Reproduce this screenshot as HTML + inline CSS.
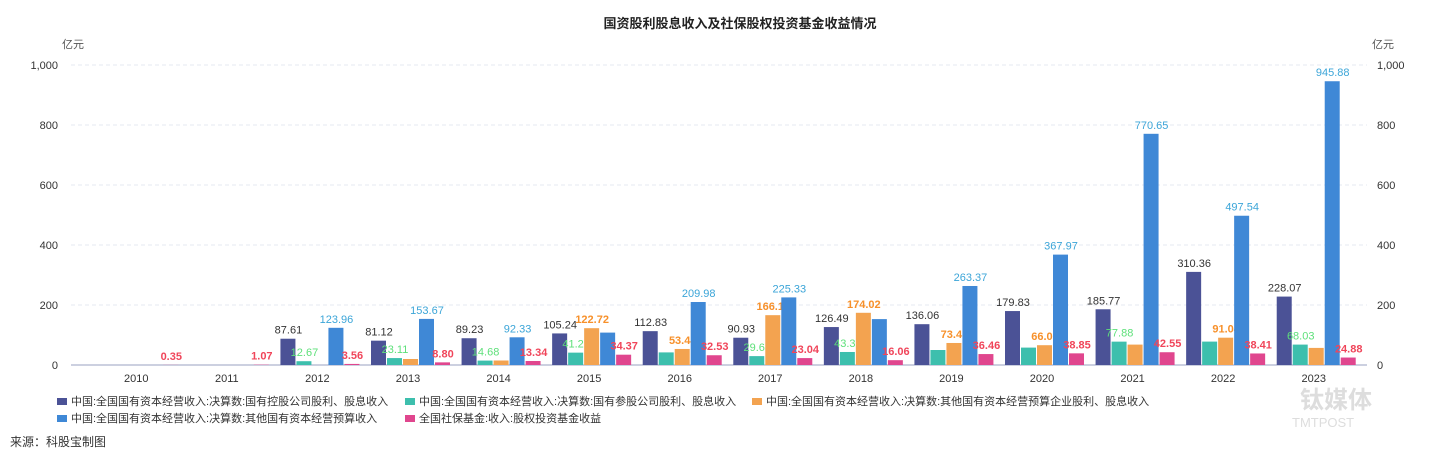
<!DOCTYPE html>
<html><head><meta charset="utf-8"><style>
body{margin:0;background:#fff;font-family:"Liberation Sans","Noto Sans CJK SC",sans-serif;}
svg text{font-family:"Liberation Sans","Noto Sans CJK SC",sans-serif;}
</style></head><body>
<svg id="c" width="1439" height="456">
<text x="740" y="28" text-anchor="middle" font-size="13" font-weight="bold" fill="#222">国资股利股息收入及社保股权投资基金收益情况</text>
<text x="62" y="48" font-size="11" fill="#555">亿元</text>
<text x="1372" y="48" font-size="11" fill="#555">亿元</text>
<text x="10" y="446" font-size="12" fill="#333">来源：科股宝制图</text>
<text x="1300" y="408" font-size="24" font-weight="bold" fill="#ddd">钛媒体</text>
<text x="1292" y="427" font-size="13" fill="#ddd">TMTPOST</text>
<g id="g"></g>
</svg>
<script>
const years=["2010","2011","2012","2013","2014","2015","2016","2017","2018","2019","2020","2021","2022","2023"];
const navy=[0,0,87.61,81.12,89.23,105.24,112.83,90.93,126.49,136.06,179.83,185.77,310.36,228.07];
const teal=[0,0,12.67,23.11,14.68,41.21,42,29.63,43.38,50,58,77.88,78,68.03];
const orange=[0,0,0,20,15,122.72,53.44,166.10,174.02,73.41,66.01,68,91.04,57];
const blue=[0,0,123.96,153.67,92.33,108,209.98,225.33,153,263.37,367.97,770.65,497.54,945.88];
const pink=[0.35,1.07,3.56,8.80,13.34,34.37,32.53,23.04,16.06,36.46,38.85,42.55,38.41,24.88];
const showNavy=[0,0,1,1,1,1,1,1,1,1,1,1,1,1];
const showTeal=[0,0,1,1,1,1,0,1,1,0,0,1,0,1];
const showOrange=[0,0,0,0,0,1,1,1,1,1,1,0,1,0];
const showBlue=[0,0,1,1,1,0,1,1,0,1,1,1,1,1];
const showPink=[1,1,1,1,1,1,1,1,1,1,1,1,1,1];
const ticks=[0,200,400,600,800,1000];
const legendNames=["中国:全国国有资本经营收入:决算数:国有控股公司股利、股息收入","中国:全国国有资本经营收入:决算数:国有参股公司股利、股息收入","中国:全国国有资本经营收入:决算数:其他国有资本经营预算企业股利、股息收入","中国:全国国有资本经营收入:决算数:其他国有资本经营预算收入","全国社保基金:收入:股权投资基金收益"];
const NS="http://www.w3.org/2000/svg",g=document.getElementById('g');
const x0=91,x1=1359,yb=365,yt=65;
const y=v=>yb-(v/1000)*(yb-yt);
const bw=(x1-x0)/years.length;
const xc=i=>x0+bw*(i+0.5);
function mk(t,a,txt){const e=document.createElementNS(NS,t);for(const k in a)e.setAttribute(k,a[k]);if(txt!==undefined)e.textContent=txt;g.appendChild(e);return e;}
ticks.forEach(t=>{
 const l=mk('line',{x1:x0-20,x2:x1+8,y1:y(t),y2:y(t),stroke:t?'#e6e9f0':'#9aa0c0','stroke-dasharray':t?'4,3':''});
 
 
 const a=mk('text',{x:58,y:y(t)+4,'text-anchor':'end','font-size':11,fill:'#333'},t.toLocaleString('en-US'));
 
 
 const b=mk('text',{x:1377,y:y(t)+4,'font-size':11,fill:'#333'},t.toLocaleString('en-US'));
 
 
});
years.forEach((yr,i)=>{
 const t=mk('text',{x:xc(i),y:382,'text-anchor':'middle','font-size':11,fill:'#333'},yr);
 
 
});
const series=[[navy,showNavy,'#4b5296','#333','normal'],[teal,showTeal,'#3dbfad','#5ee07a','normal'],[orange,showOrange,'#f3a350','#f7902a','bold'],[blue,showBlue,'#3f88d6','#3ba5d8','normal'],[pink,showPink,'#e0468e','#f0455a','bold']];
const w=16;
series.forEach((s,si)=>{
 s[0].forEach((v,i)=>{
  const bx=xc(i)-2.5*w+si*w+3;
  const r=mk('rect',{x:bx,y:y(v),width:w-1,height:yb-y(v),fill:s[2]});
  
  
  if(s[1][i]){
   const t=mk('text',{x:bx+w/2,y:y(v)-5,'text-anchor':'middle','font-size':11,fill:s[3],'font-weight':s[4]},v.toFixed(2));
   
   
  }
 });
});
const lp=[[57,404],[405,404],[752,404],[57,421],[405,421]];
legendNames.forEach((n,i)=>{
 const r=mk('rect',{x:lp[i][0],y:lp[i][1]-6,width:10,height:7,fill:series[i][2]});
 
 
 const t=mk('text',{x:lp[i][0]+14,y:lp[i][1]+1,'font-size':11,fill:'#333'},n);
 
 
});
</script>
</body></html>
